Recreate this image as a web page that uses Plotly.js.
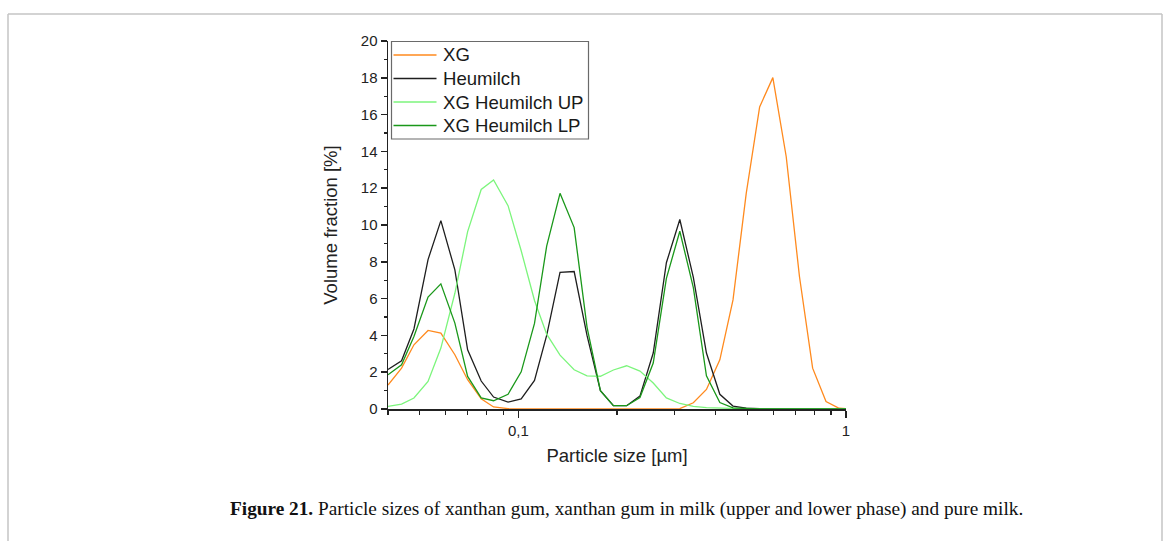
<!DOCTYPE html>
<html>
<head>
<meta charset="utf-8">
<script src="https://cdn.plot.ly/plotly-3.0.1.min.js"></script>
<style>
  html, body { margin: 0; padding: 0; background: #ffffff; }
  #chart { width: 1170px; height: 541px; }
</style>
</head>
<body>
<div id="chart"></div>
<script>
// Particle size channels [µm]
const sizes = [0.040, 0.044, 0.048, 0.053, 0.058, 0.064, 0.070, 0.077, 0.084, 0.093,
               0.102, 0.112, 0.122, 0.134, 0.148, 0.162, 0.178, 0.195, 0.214, 0.235,
               0.258, 0.283, 0.311, 0.342, 0.375, 0.412, 0.452, 0.496, 0.545, 0.598,
               0.657, 0.721, 0.791, 0.869, 0.953, 1.047];

// Volume fraction [%]
const xg = [1.30, 2.22, 3.49, 4.27, 4.12, 2.95, 1.59, 0.56, 0.11, 0.02,
            0, 0, 0, 0, 0, 0, 0, 0, 0, 0,
            0, 0, 0.02, 0.34, 1.06, 2.67, 5.93, 11.72, 16.42, 18.01,
            13.71, 7.20, 2.22, 0.41, 0.04, 0];

const heumilch = [2.15, 2.62, 4.35, 8.12, 10.24, 7.56, 3.22, 1.52, 0.65, 0.37,
                  0.55, 1.55, 4.00, 7.42, 7.47, 4.00, 1.00, 0.18, 0.18, 0.70,
                  3.04, 7.95, 10.30, 7.15, 3.04, 0.80, 0.16, 0.05, 0.02, 0,
                  0, 0, 0, 0, 0, 0];

const xgUP = [0.14, 0.27, 0.60, 1.50, 3.31, 6.29, 9.64, 11.93, 12.45, 11.05,
              8.60, 5.90, 4.07, 2.93, 2.13, 1.80, 1.78, 2.12, 2.35, 2.06,
              1.41, 0.60, 0.30, 0.14, 0.07, 0.04, 0.02, 0.01, 0.01, 0.01,
              0.01, 0.01, 0.01, 0.01, 0.01, 0.01];

const xgLP = [1.86, 2.40, 3.94, 6.08, 6.80, 4.67, 1.77, 0.60, 0.45, 0.80,
              2.02, 4.65, 8.85, 11.72, 9.86, 4.45, 1.00, 0.18, 0.18, 0.62,
              2.50, 7.10, 9.66, 6.60, 1.80, 0.35, 0.06, 0.02, 0, 0,
              0, 0, 0, 0, 0, 0];

const seriesNames = ["XG", "Heumilch", "XG Heumilch UP", "XG Heumilch LP"];
const seriesColors = ["#ff8a1e", "#1e1e1e", "#7cf57c", "#1a981a"];
const seriesData = [xg, heumilch, xgUP, xgLP];

const xTickVals = [0.1, 1];
const xTickText = ["0,1", "1"];
const xMinorVals = [0.04, 0.05, 0.06, 0.07, 0.08, 0.09, 0.2, 0.3, 0.4, 0.5, 0.6, 0.7, 0.8, 0.9];

const captionBold = "Figure 21.";
const captionText = "Particle sizes of xanthan gum, xanthan gum in milk (upper and lower phase) and pure milk.";

const traces = seriesData.map((ys, i) => ({
  x: sizes, y: ys, type: "scatter", mode: "lines", name: seriesNames[i],
  line: { color: seriesColors[i], width: 1.3 }
}));

// plot area geometry in pixels (for overlay items)
const W = 1170, H = 541;
const L = 388, R = 846, T = 41, B = 409;
const px = v => (v - L) / (R - L);
const py = v => (B - v) / (B - T);

const fontSans = "Liberation Sans, Arial, sans-serif";

// legend (box, line samples, labels) laid out like the original
const legRows = [55, 78.5, 102, 125.5];
const legendShapes = [
  { type: "rect", xref: "paper", yref: "paper", x0: px(391.5), x1: px(588.5), y0: py(41.5), y1: py(139),
    fillcolor: "#ffffff", line: { color: "#6a6a6a", width: 1.2 }, layer: "above" }
].concat(seriesNames.map((n, i) => ({
  type: "line", xref: "paper", yref: "paper", x0: px(393.5), x1: px(436.5), y0: py(legRows[i]), y1: py(legRows[i]),
  line: { color: seriesColors[i], width: 1.6 }, layer: "above"
})));
const legendLabels = seriesNames.map((n, i) => ({
  xref: "paper", yref: "paper", x: px(441), y: py(legRows[i]),
  xanchor: "left", yanchor: "middle", showarrow: false, text: n,
  font: { family: fontSans, size: 18.6, color: "#1a1a1a" }
}));

const layout = {
  width: W, height: H,
  margin: { l: L, r: W - R, t: T, b: H - B, pad: 0 },
  paper_bgcolor: "#ffffff",
  plot_bgcolor: "#ffffff",
  font: { family: fontSans, color: "#222222" },
  showlegend: false,
  xaxis: {
    type: "log",
    range: [Math.log10(0.04), 0],
    showgrid: false, zeroline: false,
    showline: true, linecolor: "#222222", linewidth: 1.5,
    ticks: "outside", ticklen: 7, tickwidth: 1.5, tickcolor: "#222222",
    tickmode: "array", tickvals: xTickVals, ticktext: xTickText,
    tickfont: { size: 15, color: "#222222" },
    minor: { tickmode: "array", tickvals: xMinorVals, ticks: "outside", ticklen: 4, tickwidth: 1.2, tickcolor: "#222222", showgrid: false },
    title: { text: "Particle size [µm]", font: { size: 18.5, color: "#222222" }, standoff: 11 }
  },
  yaxis: {
    range: [0, 20],
    showgrid: false, zeroline: false,
    showline: true, linecolor: "#222222", linewidth: 1.5,
    ticks: "outside", ticklen: 6, tickwidth: 1.5, tickcolor: "#222222",
    tickmode: "linear", tick0: 0, dtick: 2,
    tickfont: { size: 15, color: "#222222" },
    minor: { dtick: 1, ticks: "outside", ticklen: 3, tickwidth: 1.2, tickcolor: "#222222", showgrid: false },
    title: { text: "Volume fraction [%]", font: { size: 18.5, color: "#222222" }, standoff: 18 }
  },
  shapes: [
    { type: "line", xref: "paper", yref: "paper", x0: px(8), x1: px(8), y0: py(14), y1: py(560), line: { color: "#c4c4c4", width: 1.5 } },
    { type: "line", xref: "paper", yref: "paper", x0: px(8), x1: px(1162), y0: py(14), y1: py(14), line: { color: "#c4c4c4", width: 1.5 } },
    { type: "line", xref: "paper", yref: "paper", x0: px(1162), x1: px(1162), y0: py(14), y1: py(560), line: { color: "#c4c4c4", width: 1.5 } }
  ].concat(legendShapes),
  annotations: [
    {
      xref: "paper", yref: "paper", x: px(626), y: py(509),
      xanchor: "center", yanchor: "middle", showarrow: false,
      text: "<b>" + captionBold + "</b> " + captionText,
      font: { family: "Liberation Serif, Times New Roman, serif", size: 19.3, color: "#111111" }
    }
  ].concat(legendLabels)
};

Plotly.newPlot("chart", traces, layout, { displayModeBar: false, staticPlot: true });
</script>
</body>
</html>
